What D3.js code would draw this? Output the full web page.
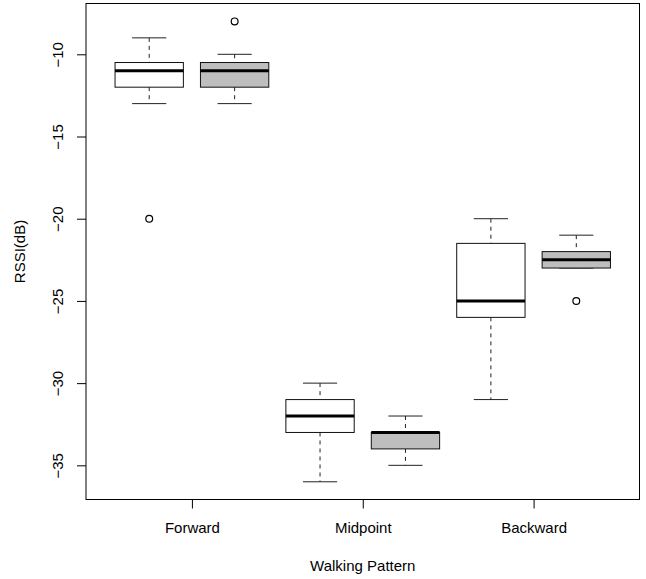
<!DOCTYPE html>
<html>
<head>
<meta charset="utf-8">
<script src="https://cdn.jsdelivr.net/npm/d3@7"></script>
<style>
  html, body { margin: 0; padding: 0; background: #fff; }
  svg { display: block; }
  text { font-family: "Liberation Sans", Arial, Helvetica, sans-serif; fill: #000; }
</style>
</head>
<body>
<svg id="chart" width="646" height="579"></svg>
<script>
// Walking patterns on the x axis, two boxes per pattern
const categories = ["Forward", "Midpoint", "Backward"];

// Five-number summaries per pattern: [lower whisker, Q1, median, Q3, upper whisker]
const series1Stats = [
  [-13, -12, -11, -10.5, -9],
  [-36, -33, -32, -31, -30],
  [-31, -26, -25, -21.5, -20]
];
const series2Stats = [
  [-13, -12, -11, -10.5, -10],
  [-35, -34, -33, -33, -32],
  [-23, -23, -22.5, -22, -21]
];

// Points beyond the whiskers
const series1Outliers = [[-20], [], []];
const series2Outliers = [[-8], [], [-25]];

const series1Fill = "#ffffff";
const series2Fill = "#bebebe";

const yTicks = [-35, -30, -25, -20, -15, -10];

const svg = d3.select("#chart");

const plot = { left: 86, right: 639.5, top: 3.5, bottom: 499.5 };

// Box positions 1..6; the two series alternate within each pattern
const nPos = categories.length * 2;
const xPad = (nPos - 0) * 0.04;
const x = d3.scaleLinear()
  .domain([0.5 - xPad, nPos + 0.5 + xPad])
  .range([plot.left, plot.right]);

const allVals = series1Stats.flat().concat(series2Stats.flat(),
  series1Outliers.flat(), series2Outliers.flat());
const yMin = d3.min(allVals), yMax = d3.max(allVals);
const yPad = (yMax - yMin) * 0.04;
const y = d3.scaleLinear()
  .domain([yMin - yPad, yMax + yPad])
  .range([500.2, 3.0]);

// Build one record per box
const boxes = [];
categories.forEach((c, i) => {
  boxes.push({ pos: 2 * i + 1, stats: series1Stats[i], out: series1Outliers[i], fill: series1Fill });
  boxes.push({ pos: 2 * i + 2, stats: series2Stats[i], out: series2Outliers[i], fill: series2Fill });
});

const boxW = 0.8, stapleW = 0.4;

const g = svg.append("g");

boxes.forEach(b => {
  const [lo, q1, med, q3, hi] = b.stats;
  const cx = x(b.pos);
  const bx0 = x(b.pos - boxW / 2), bx1 = x(b.pos + boxW / 2);
  const sx0 = x(b.pos - stapleW / 2), sx1 = x(b.pos + stapleW / 2);

  // whiskers (dashed)
  g.append("line").attr("x1", cx).attr("x2", cx).attr("y1", y(hi)).attr("y2", y(q3))
    .attr("stroke", "#222").attr("stroke-width", 1).attr("stroke-dasharray", "4,4");
  g.append("line").attr("x1", cx).attr("x2", cx).attr("y1", y(q1)).attr("y2", y(lo))
    .attr("stroke", "#222").attr("stroke-width", 1).attr("stroke-dasharray", "4,4");

  // staples
  [hi, lo].forEach(v => {
    g.append("line").attr("x1", sx0).attr("x2", sx1).attr("y1", y(v)).attr("y2", y(v))
      .attr("stroke", "#222").attr("stroke-width", 1);
  });

  // box
  g.append("rect")
    .attr("x", bx0).attr("y", y(q3))
    .attr("width", bx1 - bx0).attr("height", y(q1) - y(q3))
    .attr("fill", b.fill).attr("stroke", "#111").attr("stroke-width", 1);

  // median
  g.append("line").attr("x1", bx0).attr("x2", bx1).attr("y1", y(med)).attr("y2", y(med))
    .attr("stroke", "#000").attr("stroke-width", 3);

  // outliers
  b.out.forEach(v => {
    g.append("circle").attr("cx", cx).attr("cy", y(v)).attr("r", 3.4)
      .attr("fill", "none").attr("stroke", "#000").attr("stroke-width", 1.2);
  });
});

// frame
svg.append("rect")
  .attr("x", plot.left).attr("y", plot.top)
  .attr("width", plot.right - plot.left).attr("height", plot.bottom - plot.top)
  .attr("fill", "none").attr("stroke", "#000").attr("stroke-width", 1);

// y axis
const yAxis = svg.append("g").attr("transform", `translate(${plot.left},0)`)
  .call(d3.axisLeft(y).tickValues(yTicks).tickSize(9).tickPadding(0)
    .tickFormat(d => d3.format("")(d).replace("-", "\u2212")));
yAxis.select(".domain").remove();
yAxis.selectAll(".tick line").attr("stroke", "#000");
yAxis.selectAll(".tick text")
  .attr("x", null).attr("dy", null)
  .attr("text-anchor", "middle")
  .attr("transform", "translate(-23,0) rotate(-90)")
  .style("font-size", "15px")
  .style("font-family", "'Liberation Sans', Arial, sans-serif");

// x axis: one tick per pattern, between its two boxes
const xAxis = svg.append("g").attr("transform", `translate(0,${plot.bottom})`)
  .call(d3.axisBottom(x).tickValues(categories.map((c, i) => 2 * i + 1.5))
    .tickSize(9).tickPadding(14)
    .tickFormat((d, i) => categories[i]));
xAxis.select(".domain").remove();
xAxis.selectAll(".tick line").attr("stroke", "#000");
xAxis.selectAll(".tick text")
  .style("font-size", "15px")
  .style("font-family", "'Liberation Sans', Arial, sans-serif");

// axis titles
svg.append("text")
  .attr("x", (plot.left + plot.right) / 2).attr("y", 571)
  .attr("text-anchor", "middle").style("font-size", "15px")
  .text("Walking Pattern");

svg.append("text")
  .attr("transform", `translate(25,${(plot.top + plot.bottom) / 2}) rotate(-90)`)
  .attr("text-anchor", "middle").style("font-size", "15px")
  .text("RSSI(dB)");
</script>
</body>
</html>
